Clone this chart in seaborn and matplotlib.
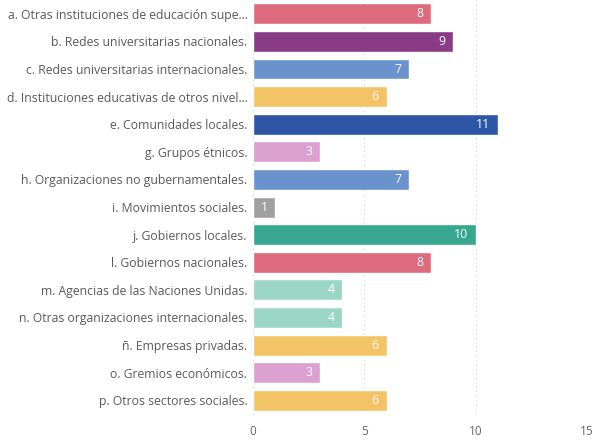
import numpy as np
import pandas as pd
import seaborn as sns
import matplotlib.pyplot as plt

categories = [
    "a. Otras instituciones de educación supe...",
    "b. Redes universitarias nacionales.",
    "c. Redes universitarias internacionales.",
    "d. Instituciones educativas de otros nivel...",
    "e. Comunidades locales.",
    "g. Grupos étnicos.",
    "h. Organizaciones no gubernamentales.",
    "i. Movimientos sociales.",
    "j. Gobiernos locales.",
    "l. Gobiernos nacionales.",
    "m. Agencias de las Naciones Unidas.",
    "n. Otras organizaciones internacionales.",
    "ñ. Empresas privadas.",
    "o. Gremios económicos.",
    "p. Otros sectores sociales.",
]
counts = [8, 9, 7, 6, 11, 3, 7, 1, 10, 8, 4, 4, 6, 3, 6]
bar_colors = ["#DE6A7D", "#8A3B86", "#6A93CD", "#F3C466", "#2F56A6",
              "#DCA1D0", "#6A93CD", "#A0A0A0", "#38A78F", "#DE6A7D",
              "#9BD6C4", "#9BD6C4", "#F3C466", "#DCA1D0", "#F3C466"]
x_ticks = [0, 5, 10, 15]

sns.set_theme(style="white")
plt.rcParams['font.family'] = ['Open Sans', 'DejaVu Sans']

df = pd.DataFrame({"cat": categories, "n": counts})

fig = plt.figure(figsize=(6, 4.4), dpi=100)
ax = fig.add_axes([0.4217, 0.059, 0.5566, 0.941])
sns.barplot(data=df, x="n", y="cat", hue="cat", palette=bar_colors,
            legend=False, width=0.76, ax=ax, saturation=1)

ax.set_xlim(0, 15)
ax.set_ylim(14.5, -0.5)
ax.set_xticks(x_ticks)
ax.xaxis.grid(True, linestyle=(0, (1, 3)), color="#cccccc", linewidth=0.8)
ax.set_axisbelow(True)
for s in ax.spines.values():
    s.set_visible(False)
ax.set_xlabel("")
ax.set_ylabel("")
ax.tick_params(axis="x", colors="#666666", labelsize=8.5, length=0, pad=8)
ax.tick_params(axis="y", colors="#5a5a5a", labelsize=8.8, length=0, pad=4)

for i, v in enumerate(counts):
    ax.text(v - 0.35, i, str(v), ha="right", va="center",
            color="white", fontsize=8.8)

fig.savefig("out.png", dpi=100)
